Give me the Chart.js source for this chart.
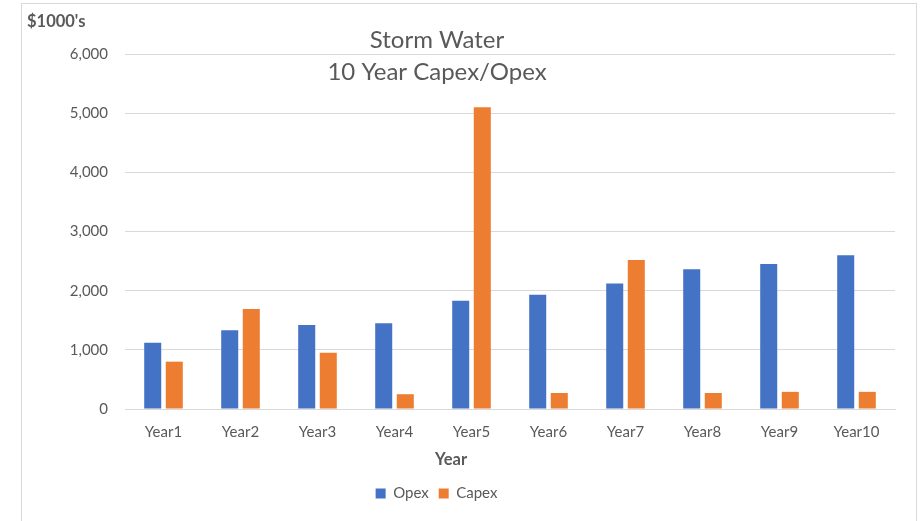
<!DOCTYPE html>
<html>
<head>
<meta charset="utf-8">
<script src="https://cdn.jsdelivr.net/npm/chart.js@4/dist/chart.umd.min.js"></script>
<style>
  html, body { margin: 0; padding: 0; background: #ffffff; }
  #wrap { width: 922px; height: 521px; position: relative; }
</style>
</head>
<body>
<div id="wrap"><canvas id="c" width="922" height="521"></canvas></div>
<script>
// ---- data ----
const categories = ["Year1", "Year2", "Year3", "Year4", "Year5", "Year6", "Year7", "Year8", "Year9", "Year10"];
const opexValues = [1120, 1330, 1420, 1450, 1830, 1930, 2120, 2360, 2450, 2600];
const capexValues = [800, 1690, 950, 250, 5100, 270, 2520, 270, 290, 290];
const seriesNames = ["Opex", "Capex"];
const titleLines = ["Storm Water", "10 Year Capex/Opex"];
const yAxisLabel = "$1000's";
const xAxisLabel = "Year";
const yTickValues = [0, 1000, 2000, 3000, 4000, 5000, 6000];

const TEXT = '#595959';
const FONT = 'Lato, "Open Sans", "Liberation Sans", sans-serif';

const decor = {
  id: 'decor',
  afterLayout(chart) {
    const lg = chart.legend;
    if (lg) { const dx = -11; lg.left += dx; lg.right += dx; }
  },
  beforeDraw(chart) {
    const ctx = chart.ctx;
    ctx.save();
    ctx.fillStyle = '#ffffff';
    ctx.fillRect(0, 0, chart.width, chart.height);
    ctx.strokeStyle = '#D9D9D9';
    ctx.lineWidth = 1;
    ctx.strokeRect(21.5, 3.5, 895, 540);
    ctx.restore();
  },
  afterDraw(chart) {
    const ctx = chart.ctx;
    ctx.save();
    ctx.fillStyle = TEXT;
    ctx.textBaseline = 'middle';
    ctx.textAlign = 'center';
    ctx.font = '400 24px ' + FONT;
    ctx.fillText(titleLines[0], 437, 40);
    ctx.fillText(titleLines[1], 437, 72);
    ctx.font = 'bold 16.5px ' + FONT;
    ctx.textAlign = 'left';
    ctx.fillText(yAxisLabel, 27, 22);
    ctx.textAlign = 'center';
    ctx.fillText(xAxisLabel, 451, 460);
    ctx.restore();
  }
};

new Chart(document.getElementById('c'), {
  type: 'bar',
  data: {
    labels: categories,
    datasets: [
      { label: seriesNames[0], data: opexValues, backgroundColor: '#4472C4', categoryPercentage: 0.56, barPercentage: 0.79 },
      { label: seriesNames[1], data: capexValues, backgroundColor: '#ED7D31', categoryPercentage: 0.56, barPercentage: 0.79 }
    ]
  },
  options: {
    responsive: false,
    animation: false,
    devicePixelRatio: 1,
    layout: { padding: { top: 54, right: 27, bottom: 10, left: 0 } },
    plugins: {
      title: { display: false },
      tooltip: { enabled: false },
      legend: {
        position: 'bottom',
        labels: {
          boxWidth: 10, boxHeight: 10, padding: 10,
          color: TEXT, font: { family: FONT, size: 15 }
        }
      }
    },
    scales: {
      x: {
        grid: { display: false, drawTicks: false },
        border: { display: true, color: '#D9D9D9', width: 1 },
        ticks: { color: TEXT, font: { family: FONT, size: 15 }, padding: 14, maxRotation: 0 },
        afterFit(s) { s.height = 67; }
      },
      y: {
        min: 0, max: 6000,
        afterBuildTicks(s) { s.ticks = yTickValues.map(v => ({ value: v })); },
        grid: { color: '#D9D9D9', lineWidth: 1, drawTicks: false },
        border: { display: false },
        ticks: {
          color: TEXT, font: { family: FONT, size: 15 }, padding: 17,
          callback: v => Number(v).toLocaleString('en-US')
        },
        afterFit(s) { s.width = 125; }
      }
    }
  },
  plugins: [decor]
});
</script>
</body>
</html>
